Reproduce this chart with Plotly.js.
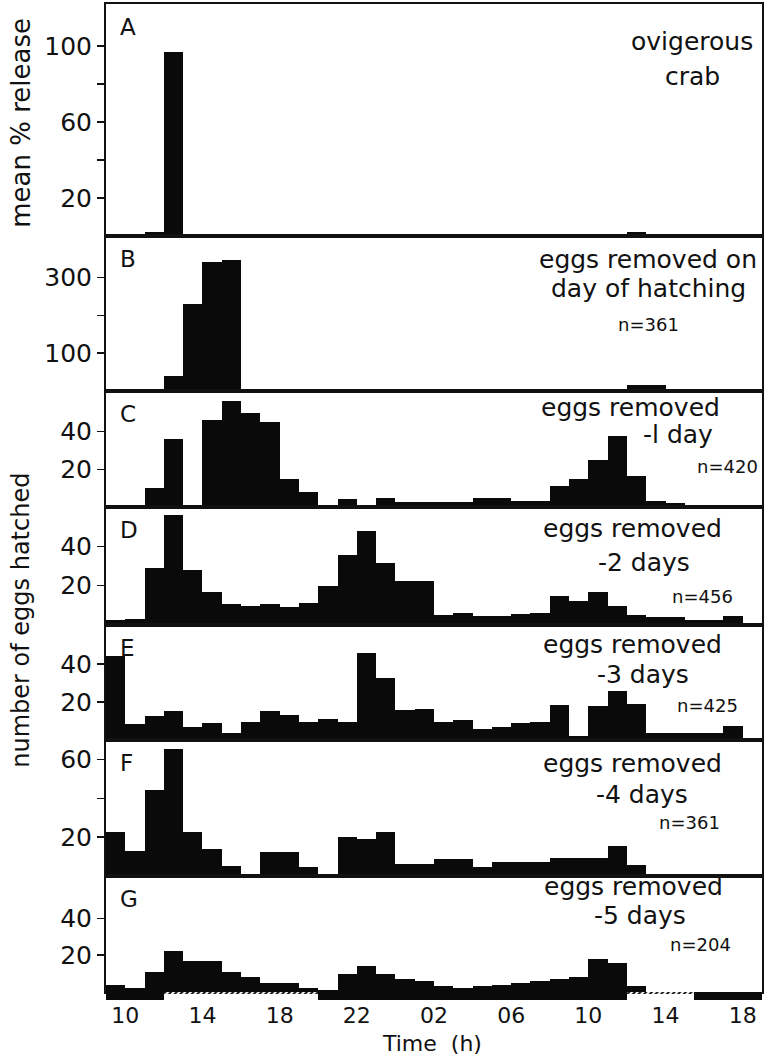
<!DOCTYPE html>
<html><head><meta charset="utf-8">
<script src="https://cdn.plot.ly/plotly-3.0.1.min.js"></script>
<style>html,body{margin:0;padding:0;background:#fff}#chart{width:764px;height:1056px}</style>
</head><body><div id="chart"></div>
<script>
// hourly bins, start hour (9 = 09:00 day 1, 33 = 09:00 day 2)
const hours = [9,10,11,12,13,14,15,16,17,18,19,20,21,22,23,24,25,26,27,28,29,30,31,32,33,34,35,36,37,38,39,40,41,42];
const tickHours = [10,14,18,22,26,30,34,38,42];
const tickLabels = ['10','14','18','22','02','06','10','14','18'];

const panelA = [0,0,2,97,0,0,0,0,0,0,0,0,0,0,0,0,0,0,0,0,0,0,0,0,0,0,0,2,0,0,0,0,0,0];
const panelB = [0,4,5,40,229,340,347,0,0,0,0,0,0,0,0,0,0,0,0,0,0,0,0,0,0,0,0,15,15,0,0,0,0,0];
const panelC = [0,0,10,36,0,46,56,50,45,15,8,1,4.5,0.5,5,2.5,2.5,2.5,2.5,5,5,3,3,11,15,25,37.5,16.5,3,2,0,0,0,0];
const panelD = [2.3,3.2,29,56,28,16.6,10.7,9.8,10.7,9.2,11.2,20,35.7,47.6,31.4,22.2,22.2,5.2,6,4.4,4.4,5.5,6.3,14.6,12,17,9.8,5.2,4,4,2.7,2.7,4.7,0];
const panelE = [44.3,8.3,12.7,15.3,6.6,9,3.5,9.6,15.3,13.4,9.6,11.3,9.6,46,32.7,16,16.5,9.6,10.4,5.6,6.6,9,9.6,18.3,2.1,17.7,26,18.8,3.5,3.5,3.8,3.8,7.3,0];
const panelF = [22.6,13,44.3,65.2,22.6,13.9,5,0,12.2,12.2,4.5,1,20,19,22.6,6,6,8.7,8.7,4.6,7.2,7.2,7.2,9.5,9.5,9.5,15.6,5.7,0,0,0,0,0,0];
const panelG = [4,2,11,22,17,17,11,8,5,5,2,1,10,14,10,7,6,3,2,3,4,5,6,7,8,18,16,3,0,0,0,0,0,0];

// photoperiod strip below the last panel (start, end, kind)
const stripStart = [9,12,20,36,39.5];
const stripEnd   = [12,20,36,39.5,43];
const stripKind  = ['dark','light','dark','light','dark'];

const panelLetters = ['A','B','C','D','E','F','G'];
const panelNotes = [
  ['ovigerous','crab',''],
  ['eggs removed on','day of hatching','n=361'],
  ['eggs removed','-l day','n=420'],
  ['eggs removed','-2 days','n=456'],
  ['eggs removed','-3 days','n=425'],
  ['eggs removed','-4 days','n=361'],
  ['eggs removed','-5 days','n=204']
];
const series = [panelA,panelB,panelC,panelD,panelE,panelF,panelG];
const yRanges = [[0,122],[0,410],[0,61.5],[0,60],[0,60.5],[0,70],[0,63]];
const yTicks = [[20,40,60,80,100],[100,200,300],[20,40],[20,40],[20,40],[20,40,60],[20,40]];
const yTickText = [['20','','60','','100'],['100','','300'],['20','40'],['20','40'],['20','40'],['20','','60'],['20','40']];

// layout geometry (pixels)
const W = 764, H = 1056, TOP = 4, BOT = 1000;
const panelPx = [[4,236],[236,391],[391,507],[507,625],[625,740],[740,876],[876,992]];
const P = y => (BOT - y) / (BOT - TOP);
const FONT = 'DejaVu Sans';

const centers = hours.map(h => h + 0.5);
const traces = [];
const layout = {
  width: W, height: H,
  margin: {l:106, r:2, t:TOP, b:H-BOT},
  paper_bgcolor:'#fff', plot_bgcolor:'#fff',
  showlegend:false, bargap:0,
  font:{family:FONT, color:'#111', size:22},
  annotations:[], shapes:[]
};

series.forEach((vals, i) => {
  const k = i === 0 ? '' : String(i+1);
  traces.push({
    type:'bar', x:centers, y:vals, width:hours.map(()=>1),
    xaxis:'x'+k, yaxis:'y'+k,
    marker:{color:'#0a0a0a', line:{width:0}}, hoverinfo:'skip'
  });
  const dom = [P(panelPx[i][1]), P(panelPx[i][0])];
  layout['yaxis'+k] = {
    domain:dom, range:yRanges[i], anchor:'x'+k,
    tickmode:'array', tickvals:yTicks[i], ticktext:yTickText[i],
    ticks:'outside', ticklen:7, tickwidth:1.5, tickcolor:'#111',
    showline:true, mirror:true, linecolor:'#111', linewidth:2,
    showgrid:false, zeroline:false, fixedrange:true,
    tickfont:{family:FONT, size:25, color:'#111'}
  };
  layout['xaxis'+k] = {
    domain:[0,1], range:[9,43], anchor:'y'+k,
    showline:true, mirror:true, linecolor:'#111', linewidth:2,
    showgrid:false, zeroline:false, fixedrange:true,
    showticklabels:false, ticks:''
  };
  if (i > 0) layout['xaxis'+k].matches = 'x';
  // panel letter
  layout.annotations.push({
    xref:'paper', yref:'paper', x:0.018, y:dom[1], yshift:-8,
    xanchor:'left', yanchor:'top', showarrow:false,
    text:panelLetters[i], font:{family:FONT, size:23, color:'#111'}
  });
});

// strip (photoperiod) on its own thin axis
traces.push({
  type:'bar',
  x:stripStart.map((s,j)=>(s+stripEnd[j])/2),
  width:stripStart.map((s,j)=>stripEnd[j]-s),
  y:stripStart.map(()=>1),
  xaxis:'x8', yaxis:'y8', hoverinfo:'skip',
  marker:{
    color:stripKind.map(t=>t==='dark'?'#0a0a0a':'#ffffff'),
    line:{width:0},
    pattern:{shape:stripKind.map(t=>t==='dark'?'':'/'), fgcolor:'#111', size:4, solidity:0.5}
  }
});
layout.yaxis8 = {domain:[0,P(992)], range:[0,1], anchor:'x8', visible:false, fixedrange:true};
layout.xaxis8 = {
  domain:[0,1], range:[9,43], anchor:'y8', matches:'x',
  tickmode:'array', tickvals:tickHours, ticktext:tickLabels,
  ticks:'', showline:false, showgrid:false, zeroline:false,
  tickfont:{family:FONT, size:22, color:'#111'}
};

// right-side notes
const notePos = [
  [[692,41],[692,76],null],
  [[648,259],[648,288],[648,324]],
  [[630,407],[678,434],[727,466]],
  [[632,528],[644,562],[702,596]],
  [[632,644],[643,675],[707,705]],
  [[632,764],[642,794],[689,822]],
  [[633,886],[640,915],[700,944]]
];
panelNotes.forEach((lines,i)=>{
  lines.forEach((t,j)=>{
    if(!t) return;
    const p = notePos[i][j];
    layout.annotations.push({
      xref:'paper', yref:'paper', x:(p[0]-106)/(W-108), y:P(p[1]),
      xanchor:'center', yanchor:'middle', showarrow:false, text:t,
      font:{family:FONT, size: j===2 ? 18 : 25, color:'#111'}
    });
  });
});

// axis titles
layout.annotations.push({
  xref:'paper', yref:'paper', x:-0.13, y:P(123), xanchor:'center', yanchor:'middle',
  showarrow:false, textangle:-90, text:'mean % release', font:{family:FONT, size:26, color:'#111'}
});
layout.annotations.push({
  xref:'paper', yref:'paper', x:-0.13, y:P(620), xanchor:'center', yanchor:'middle',
  showarrow:false, textangle:-90, text:'number of eggs hatched', font:{family:FONT, size:24, color:'#111'}
});
layout.annotations.push({
  xref:'paper', yref:'paper', x:(432-106)/(W-108), y:P(1043), xanchor:'center', yanchor:'middle',
  showarrow:false, text:'Time  (h)', font:{family:FONT, size:22, color:'#111'}
});

Plotly.newPlot('chart', traces, layout, {staticPlot:true, displayModeBar:false});
</script>
</body></html>
